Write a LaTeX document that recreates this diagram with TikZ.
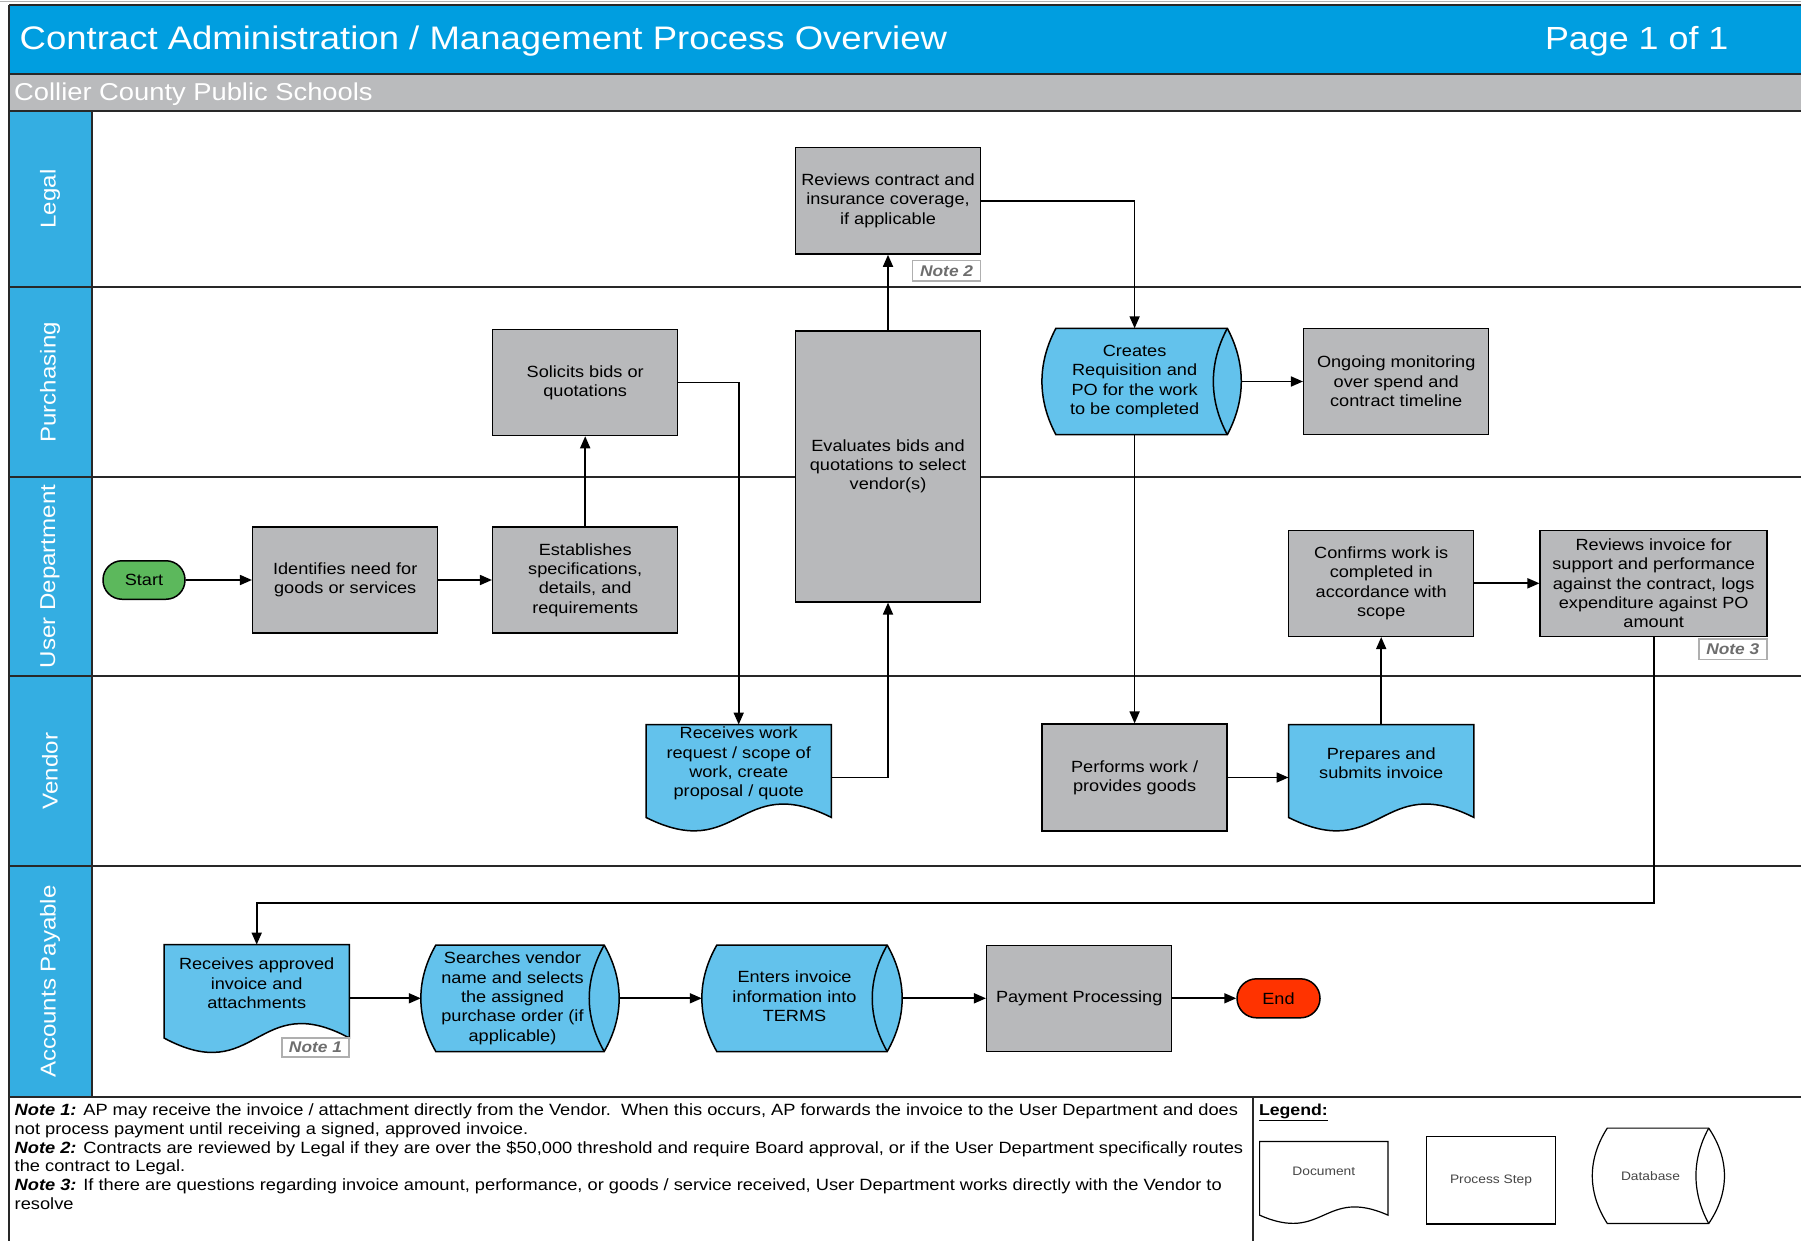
\documentclass[tikz,border=0pt]{standalone}
\usepackage{fontspec}
\setmainfont{Liberation Sans}[FakeStretch=1.12]
\usetikzlibrary{arrows.meta,calc}

\definecolor{hdrblue}{RGB}{0,158,224}
\definecolor{laneblue}{RGB}{52,174,226}
\definecolor{bandgray}{RGB}{186,187,189}
\definecolor{boxgray}{RGB}{184,185,187}
\definecolor{docblue}{RGB}{99,194,236}
\definecolor{startgreen}{RGB}{92,184,92}
\definecolor{endred}{RGB}{255,51,0}
\definecolor{linedark}{RGB}{40,40,40}
\definecolor{tagtext}{RGB}{110,110,110}
\definecolor{tagline}{RGB}{175,175,175}
\definecolor{legtext}{RGB}{70,70,70}

% document shape: name, fill, wave depth
\newcommand{\docpath}[3]{%
  \path[outline, fill=#2] (#1.north west) -- (#1.north east) -- ($(#1.south east)+(0,-#3)$)
    .. controls ($(#1.south)+(0,-#3-3.57*#3)$) and ($(#1.south)+(0,-#3+3.57*#3)$) .. ($(#1.south west)+(0,-#3)$) -- cycle;}
% database shape: name, fill, bulge, control height
\newcommand{\dbpath}[4]{%
  \path[outline, fill=#2] ($(#1.north west)+(#3,0)$) -- (#1.north east)
    .. controls ($(#1.north east)+(1.33*#3,#4)$) and ($(#1.south east)+(1.33*#3,-#4)$) .. (#1.south east)
    -- ($(#1.south west)+(#3,0)$)
    .. controls ($(#1.south west)+(-0.33*#3,-#4)$) and ($(#1.north west)+(-0.33*#3,#4)$) .. cycle;
  \draw[outline] (#1.north east) .. controls ($(#1.north east)+(-1.33*#3,#4)$) and ($(#1.south east)+(-1.33*#3,-#4)$) .. (#1.south east);}

\tikzset{
  boxtext/.style={font=\fontsize{16.2}{19.3}\selectfont, align=center, text=black},
  outline/.style={draw=black, line width=1.5pt},
  proc/.style={boxtext, outline, fill=boxgray, rectangle, inner sep=2pt, minimum width=185pt, minimum height=106pt},
  shapebase/.style={rectangle, draw=none, inner sep=0pt, minimum width=185pt, minimum height=106pt},
  term/.style={boxtext, outline, rounded corners=19pt, minimum width=82pt, minimum height=38.5pt, inner sep=0pt},
  arr/.style={line width=1.7pt, -{Triangle[length=12pt,width=10pt]}},
  tag/.style={draw=tagline, line width=1.5pt, fill=white, font=\fontsize{15.5}{17}\selectfont\bfseries\itshape, text=tagtext, inner sep=0pt, minimum width=68pt, minimum height=20.5pt},
  lanelabel/.style={rotate=90, text=white, font=\fontsize{21.5}{24}\selectfont},
  divider/.style={draw=linedark, line width=2pt},
  legshape/.style={draw=black, line width=1.2pt},
  legfont/.style={font=\fontsize{12.3}{14}\selectfont, text=legtext},
}

\begin{document}
\begin{tikzpicture}[x=1pt, y=-1pt]
\useasboundingbox (0,0) rectangle (1801,1241);
\fill[white] (0,0) rectangle (1801,1241);
\draw[gray!60, line width=1pt] (0,1.5) -- (1801,1.5);

% title band and subtitle band
\fill[hdrblue] (9,5) rectangle (1801,74);
\fill[bandgray] (9,75) rectangle (1801,110);
\draw[divider] (9,5) -- (1801,5);
\draw[divider] (9,74.5) -- (1801,74.5);
\node[anchor=base west, text=white, font=\fontsize{32.6}{36}\selectfont, inner sep=0pt] (title) at (19.5,49.5) {Contract Administration / Management Process Overview};
\node[anchor=base east, text=white, font=\fontsize{32}{36}\selectfont, inner sep=0pt] (page) at (1728.6,49.5) {Page 1 of 1};
\node[anchor=base west, text=white, font=\fontsize{24.4}{28}\selectfont, inner sep=0pt] (org) at (14,100.5) {Collier County Public Schools};

% swimlanes
\fill[laneblue] (9,110.7) rectangle (92,1097);
\foreach \yy in {110.7,287.3,477.3,675.7,866.2,1097}
  \draw[divider] (9,\yy) -- (1801,\yy);
\draw[divider] (92,110.7) -- (92,1097);
\draw[divider] (9,5) -- (9,1241);
\draw[divider] (1253,1097) -- (1253,1241);

\node[lanelabel] (lbl-legal) at (50,199) {Legal};
\node[lanelabel] (lbl-purch) at (50,382.3) {Purchasing};
\node[lanelabel] (lbl-user) at (50,576.5) {User Department};
\node[lanelabel] (lbl-vendor) at (50,771) {Vendor};
\node[lanelabel] (lbl-ap) at (50,981.6) {Accounts Payable};

% process steps
\node[term, fill=startgreen] (start) at (144,580) {Start};
\node[proc] (ident) at (345.2,580) {Identifies need for\\goods or services};
\node[proc] (estab) at (585.2,580) {Establishes\\specifications,\\details, and\\requirements};
\node[proc] (solic) at (585.2,382.5) {Solicits bids or\\quotations};
\node[proc, minimum height=271pt] (evalb) at (888,466.3) {Evaluates bids and\\quotations to select\\vendor(s)};
\node[proc, minimum height=106.7pt] (revc) at (888,200.7) {Reviews contract and\\insurance coverage,\\if applicable};
\node[tag] (note2) at (946.6,270.8) {Note 2};

\node[shapebase] (creq) at (1134.6,381.5) {};
\dbpath{creq}{docblue}{14}{35}
\node[boxtext] (creq-t) at (creq.center) {Creates\\Requisition and\\PO for the work\\to be completed};
\node[proc] (ongo) at (1396.2,381.5) {Ongoing monitoring\\over spend and\\contract timeline};

\node[proc] (confw) at (1381.2,583.3) {Confirms work is\\completed in\\accordance with\\scope};
\node[proc, minimum width=227pt] (revi) at (1653.7,583.3) {Reviews invoice for\\support and performance\\against the contract, logs\\expenditure against PO\\amount};
\node[tag] (note3) at (1732.8,649.3) {Note 3};

\node[shapebase, minimum height=105.5pt] (rwr) at (738.7,777.5) {};
\docpath{rwr}{docblue}{13}
\node[boxtext] (rwr-t) at ($(rwr.center)+(0,-14)$) {Receives work\\request / scope of\\work, create\\proposal / quote};
\node[proc, minimum height=106.7pt] (perf) at (1134.6,777.5) {Performs work /\\provides goods};
\node[shapebase, minimum height=105.5pt] (prep) at (1381.2,777.5) {};
\docpath{prep}{docblue}{13}
\node[boxtext] (prep-t) at ($(prep.center)+(0,-14)$) {Prepares and\\submits invoice};

\node[shapebase, minimum height=107pt] (rapp) at (256.7,998.3) {};
\docpath{rapp}{docblue}{14}
\node[boxtext] (rapp-t) at ($(rapp.center)+(0,-15)$) {Receives approved\\invoice and\\attachments};
\node[tag, minimum width=67pt, minimum height=19pt] (note1) at (315.5,1047.5) {Note 1};
\node[shapebase, minimum width=183pt] (srch) at (512.5,998.3) {};
\dbpath{srch}{docblue}{15}{35}
\node[boxtext] (srch-t) at (srch.center) {Searches vendor\\name and selects\\the assigned\\purchase order (if\\applicable)};
\node[shapebase] (entr) at (794.5,998.3) {};
\dbpath{entr}{docblue}{15}{35}
\node[boxtext] (entr-t) at ($(entr.center)+(0,-2)$) {Enters invoice\\information into\\TERMS};
\node[proc] (payp) at (1079.2,998.3) {Payment Processing};
\node[term, fill=endred, minimum width=83pt, minimum height=39pt, rounded corners=19.5pt] (endn) at (1278.5,998.3) {End};

% flow
\coordinate (apbus) at (256.7,903);
\draw[arr] (start.east) -- (ident.west);
\draw[arr] (ident.east) -- (estab.west);
\draw[arr] (estab.north) -- (solic.south);
\draw[arr] (solic.east) -| (rwr.north);
\draw[arr] (rwr.east) -| (evalb.south);
\draw[arr] (evalb.north) -- (revc.south);
\draw[arr] (revc.east) -| (creq.north);
\draw[arr] ($(creq.east)+(14,0)$) -- (ongo.west);
\draw[arr] (creq.south) -- (perf.north);
\draw[arr] (perf.east) -- (prep.west);
\draw[arr] (prep.north) -- (confw.south);
\draw[arr] (confw.east) -- (revi.west);
\draw[arr] (revi.south) |- (apbus) -- (rapp.north);
\draw[arr] (rapp.east) -- (srch.west);
\draw[arr] ($(srch.east)+(15,0)$) -- (entr.west);
\draw[arr] ($(entr.east)+(15,0)$) -- (payp.west);
\draw[arr] (payp.east) -- (endn.west);

% notes
\node[anchor=north west, align=left, inner sep=0pt, font=\fontsize{16.3}{18.8}\selectfont] (notes) at (14.5,1103.5) {%
\textbf{\textit{Note 1:}} AP may receive the invoice / attachment directly from the Vendor.\ \ When this occurs, AP forwards the invoice to the User Department and does\\
not process payment until receiving a signed, approved invoice.\\
\textbf{\textit{Note 2:}} Contracts are reviewed by Legal if they are over the \$50,000 threshold and require Board approval, or if the User Department specifically routes\\
the contract to Legal.\\
\textbf{\textit{Note 3:}} If there are questions regarding invoice amount, performance, or goods / service received, User Department works directly with the Vendor to\\
resolve};

% legend
\node[anchor=base west, inner sep=0pt, font=\fontsize{15.8}{18}\selectfont\bfseries] (legt) at (1258.8,1115.5) {\underline{Legend:}};
\node[shapebase, minimum width=128pt, minimum height=81.3pt] (lgdoc) at (1323.8,1182.3) {};
\path[legshape, fill=white] (lgdoc.north west) -- (lgdoc.north east) -- ($(lgdoc.south east)+(0,-8)$)
  .. controls ($(lgdoc.south)+(0,-36.5)$) and ($(lgdoc.south)+(0,20.5)$) .. ($(lgdoc.south west)+(0,-8)$) -- cycle;
\node[legfont] (lgdoc-t) at ($(lgdoc.center)+(0,-11)$) {Document};
\node[legshape, legfont, fill=white, minimum width=129.3pt, minimum height=87.3pt] (lgproc) at (1491,1180.4) {Process Step};
\node[shapebase, minimum width=116pt, minimum height=95pt] (lgdb) at (1650.5,1175.8) {};
\path[legshape, fill=white] ($(lgdb.north west)+(15,0)$) -- (lgdb.north east)
  .. controls ($(lgdb.north east)+(21,31)$) and ($(lgdb.south east)+(21,-31)$) .. (lgdb.south east)
  -- ($(lgdb.south west)+(15,0)$)
  .. controls ($(lgdb.south west)+(-5,-31)$) and ($(lgdb.north west)+(-5,31)$) .. cycle;
\draw[legshape] (lgdb.north east) .. controls ($(lgdb.north east)+(-17,31)$) and ($(lgdb.south east)+(-17,-31)$) .. (lgdb.south east);
\node[legfont] (lgdb-t) at (lgdb.center) {Database};
\end{tikzpicture}
\end{document}
